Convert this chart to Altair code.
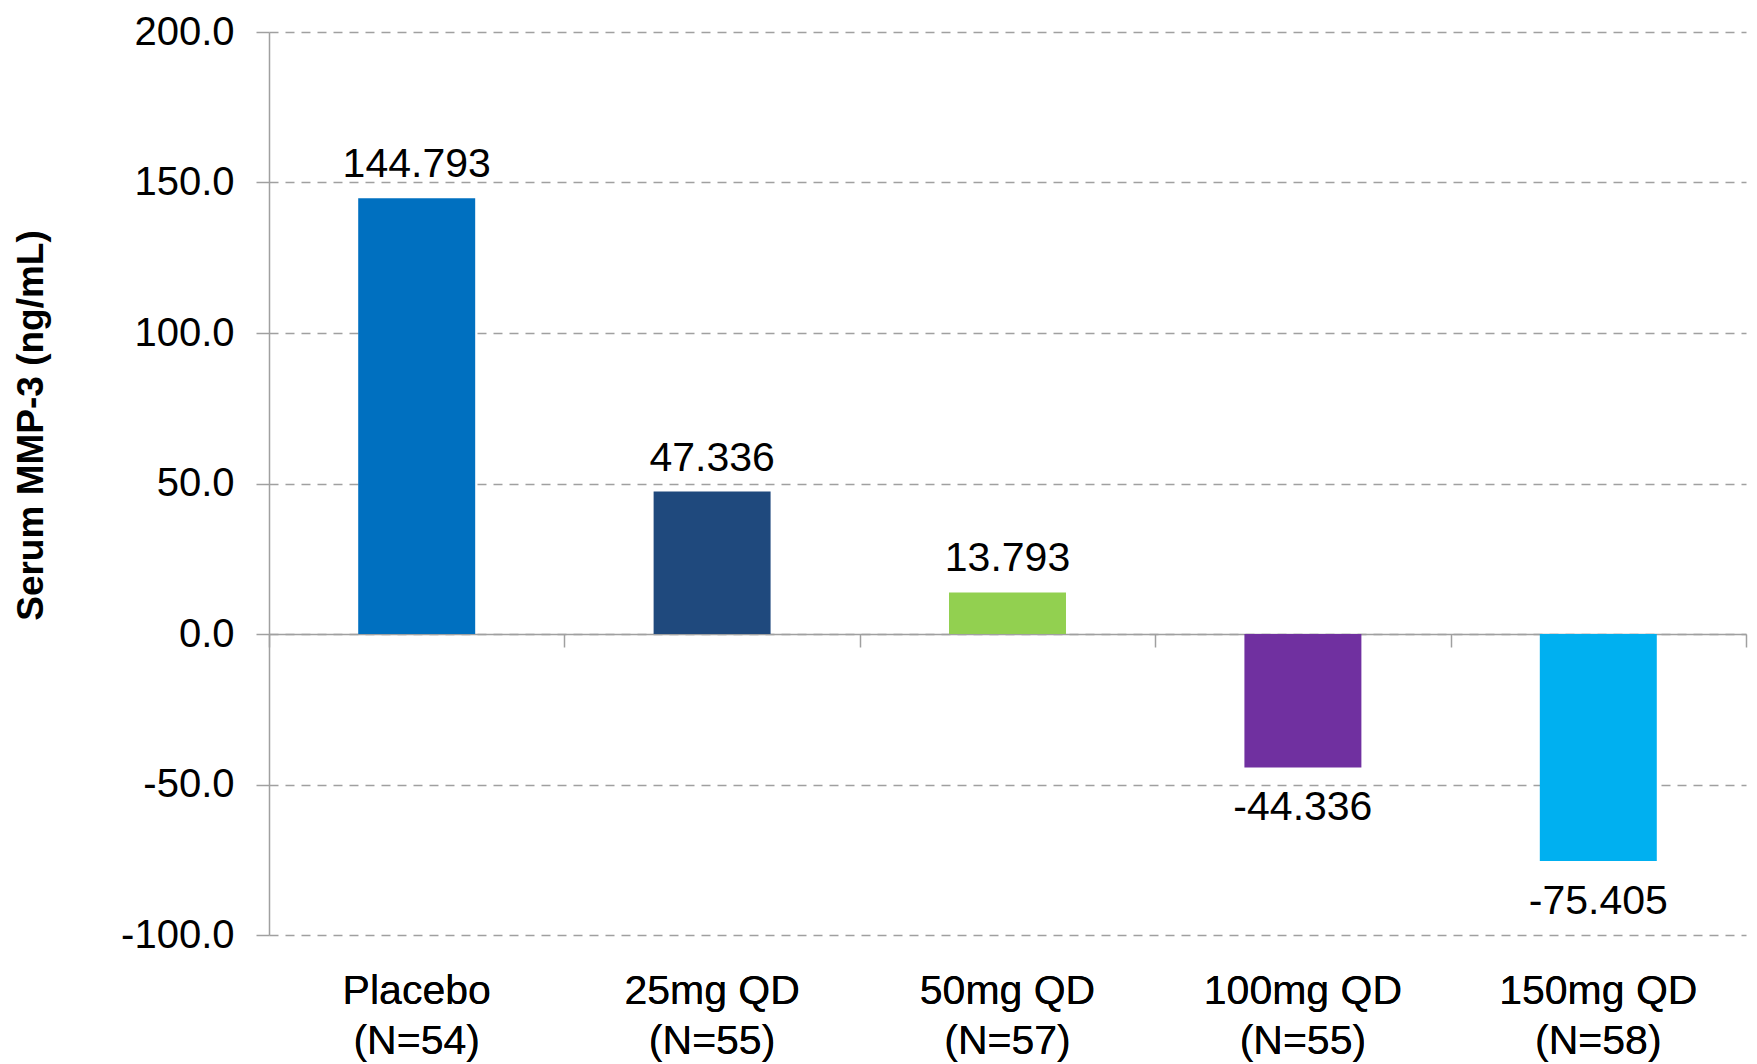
import altair as alt
import pandas as pd

doses = ["Placebo", "25mg QD", "50mg QD", "100mg QD", "150mg QD"]
ns = [54, 55, 57, 55, 58]
values = [144.793, 47.336, 13.793, -44.336, -75.405]
colors = ["#0070C0", "#1F497D", "#92D050", "#7030A0", "#00B0F0"]
y_ticks = [-100, -50, 0, 50, 100, 150, 200]

cats = [f"{d}\n(N={n})" for d, n in zip(doses, ns)]
df = pd.DataFrame({"cat": cats, "value": values, "txt": [f"{v:.3f}" for v in values]})

FONT = "Liberation Sans"
GRAY = "#A0A0A0"
W, H = 1477, 903
zero_offset = -(H * 100 / 300)

xscale = alt.Scale(domain=cats, paddingInner=0, paddingOuter=0)
yscale = alt.Scale(domain=[-100, 200], nice=False, zero=False)

yaxis = alt.Axis(
    values=y_ticks, labelExpr="replace(format(datum.value, '.1f'), '\u2212', '-')",
    labelFontSize=40, labelFont=FONT, labelColor="#000000",
    labelPadding=22, tickSize=13, tickColor=GRAY, tickWidth=1.5,
    domainColor=GRAY, domainWidth=1.5,
    grid=True, gridColor=GRAY, gridWidth=1.5, gridDash=[9, 7],
    title="Serum MMP-3 (ng/mL)", titleFont=FONT, titleFontSize=37, titleFontWeight="bold",
    titleColor="#000000", titleAngle=270, titleX=-238, titleY=393,
    titleAlign="center", titleBaseline="middle",
)

zero_axis = alt.Axis(
    orient="bottom", offset=zero_offset, labels=False, title=None,
    domain=True, domainColor=GRAY, domainWidth=1.5,
    ticks=True, tickBand="extent", tickSize=13, tickColor=GRAY, tickWidth=1.5,
    grid=False,
)

label_axis = alt.Axis(
    orient="bottom", domain=False, ticks=False, grid=False, title=None,
    labelAngle=0, labelFontSize=41, labelFont=FONT, labelColor="#000000",
    labelPadding=36, labelLineHeight=50, labelLimit=0,
    labelExpr="split(datum.label, '\\n')",
)

base = alt.Chart(df)

bars = base.mark_bar(width=alt.RelativeBandSize(0.396)).encode(
    x=alt.X("cat:N", sort=cats, scale=xscale, axis=zero_axis),
    y=alt.Y("value:Q", scale=yscale, axis=yaxis),
    color=alt.Color("cat:N", scale=alt.Scale(domain=cats, range=colors), legend=None),
)

pos_text = base.transform_filter("datum.value >= 0").mark_text(
    baseline="alphabetic", dy=-21, fontSize=41, font=FONT, color="#000000"
).encode(
    x=alt.X("cat:N", sort=cats, scale=xscale, axis=label_axis),
    y=alt.Y("value:Q", scale=yscale),
    text="txt:N",
)

neg_text = base.transform_filter("datum.value < 0").mark_text(
    baseline="alphabetic", dy=53, fontSize=41, font=FONT, color="#000000"
).encode(
    x=alt.X("cat:N", sort=cats, scale=xscale, axis=label_axis),
    y=alt.Y("value:Q", scale=yscale),
    text="txt:N",
)

chart = (
    alt.layer(bars, pos_text, neg_text)
    .resolve_axis(x="independent")
    .properties(
        width=W, height=H,
        autosize=alt.AutoSizeParams(type="none"),
        padding={"left": 261, "top": 24, "right": 3, "bottom": 128},
    )
    .configure_view(stroke=None)
)

chart.save("out.html", embed_options={"renderer": "svg", "actions": False})
